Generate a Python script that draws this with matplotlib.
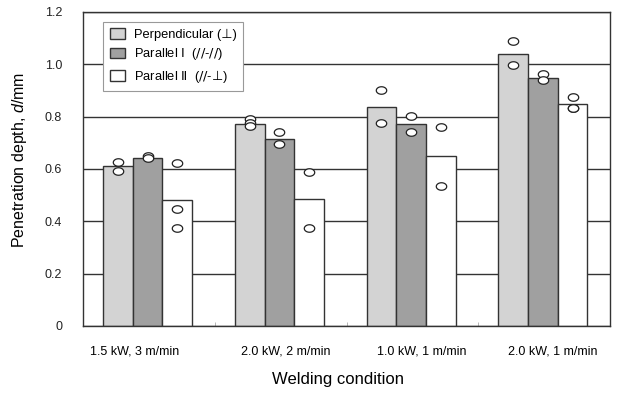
import matplotlib
matplotlib.use("Agg")
import matplotlib.pyplot as plt
import matplotlib.transforms as mtransforms
from matplotlib.path import Path
import numpy as np
from matplotlib.ticker import FuncFormatter

plt.rcParams['font.family'] = ['Liberation Sans', 'DejaVu Sans']
plt.rcParams['mathtext.fontset'] = 'custom'
plt.rcParams['mathtext.rm'] = 'DejaVu Sans'
plt.rcParams['mathtext.it'] = 'Liberation Sans:italic'

conditions = ['1.5 kW, 3 m/min', '2.0 kW, 2 m/min', '1.0 kW, 1 m/min', '2.0 kW, 1 m/min']
series = ['Perpendicular (⊥)',
          r'Parallel $\mathrm{Ⅰ}$  ($\mathit{//}$-$\mathit{//}$)',
          r'Parallel $\mathrm{Ⅱ}$  ($\mathit{//}$-$\mathrm{⊥}$)']

# mean penetration depth (mm)
perp = [0.61, 0.772, 0.838, 1.04]
par1 = [0.643, 0.716, 0.771, 0.946]
par2 = [0.483, 0.484, 0.648, 0.848]

# individual measurements
perp_pts = [[0.625, 0.591], [0.79, 0.774, 0.764], [0.902, 0.777], [1.088, 0.997]]
par1_pts = [[0.65, 0.643], [0.74, 0.697], [0.804, 0.743], [0.963, 0.94]]
par2_pts = [[0.622, 0.446, 0.373], [0.59, 0.373], [0.759, 0.535], [0.874, 0.832, 0.832]]

means = [perp, par1, par2]
points = [perp_pts, par1_pts, par2_pts]
colors = ['#d3d3d3', '#a0a0a0', 'white']

# flattened open circle like in the original
t = np.linspace(0, 2 * np.pi, 40)
oval = Path(np.column_stack([np.cos(t), 0.72 * np.sin(t)]), closed=True)

fig = plt.figure(figsize=(6.2, 3.94), dpi=100)
ax = fig.add_axes([0.134, 0.1726, 0.850, 0.797])

x = np.arange(len(conditions))
w = 0.225
for k in range(3):
    pos = x + (k - 1) * w - 0.01
    ax.bar(pos, means[k], width=w, color=colors[k], edgecolor='#333333',
           linewidth=1.0, label=series[k], zorder=2)
    for i in range(len(conditions)):
        vals = points[k][i]
        ax.plot([pos[i]] * len(vals), vals, ls='none', marker=oval, ms=7.5,
                mfc='white', mec='#222222', mew=0.9, zorder=3)

ax.set_xlim(-0.5, 3.5)
ax.set_ylim(0, 1.2)
ax.set_yticks(np.arange(0, 1.21, 0.2))
ax.yaxis.set_major_formatter(FuncFormatter(lambda v, p: '0' if abs(v) < 1e-9 else f'{v:.1f}'))
ax.grid(axis='y', color='#333333', linewidth=1.0, zorder=0)
ax.set_axisbelow(True)

ax.set_xticks(x)
ax.set_xticklabels(conditions)
ax.set_xticks([0.5, 1.5, 2.5], minor=True)
ax.tick_params(axis='x', which='major', length=0, pad=14, labelsize=9)
ax.tick_params(axis='x', which='minor', direction='in', length=3, color='#aaaaaa')
ax.tick_params(axis='y', length=0, pad=15, labelsize=9, labelcolor='#222222')

# the tick labels in the original sit a little off the group centres
for lab, dx in zip(ax.get_xticklabels(), [-14, 5, 9, 9]):
    lab.set_transform(lab.get_transform() + mtransforms.ScaledTranslation(dx / 100, 0, fig.dpi_scale_trans))

for s in ax.spines.values():
    s.set_color('#333333')
    s.set_linewidth(1.0)

ax.set_ylabel(r'Penetration depth, $\it{d}$/mm', fontsize=11.5)
ax.yaxis.set_label_coords(-0.102, 0.53)
ax.set_xlabel('Welding condition', fontsize=12)
ax.xaxis.set_label_coords(0.484, -0.148)

leg = ax.legend(loc='upper left', bbox_to_anchor=(0.038, 0.968), borderaxespad=0,
                fontsize=9.3, fancybox=False, edgecolor='#999999', framealpha=1,
                handlelength=1.2, handleheight=0.9, handletextpad=0.7,
                borderpad=0.5, labelspacing=0.4)
leg.get_frame().set_linewidth(0.8)

fig.savefig('out.png', dpi=100)
